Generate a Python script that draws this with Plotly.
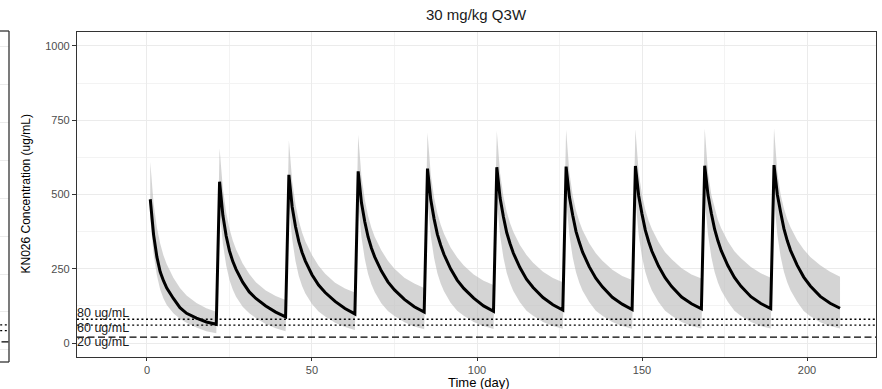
import plotly.graph_objects as go

# ---------------- data ----------------
dose_days = [1, 22, 43, 64, 85, 106, 127, 148, 169, 190]
offsets = [0, 1, 2, 3, 4, 5, 7, 9, 11, 14, 17, 20]

median_by_cycle = [
    [484, 365, 290, 240, 210, 185, 150, 119, 100, 84, 71, 63],
    [543, 430, 360, 310, 275, 248, 205, 172, 150, 125, 104, 88],
    [566, 458, 392, 342, 305, 276, 230, 195, 170, 140, 116, 98],
    [578, 472, 408, 357, 320, 290, 243, 206, 179, 147, 122, 104],
    [587, 482, 418, 366, 329, 298, 250, 212, 184, 151, 125, 107],
    [592, 488, 425, 372, 335, 303, 254, 215, 187, 153, 129, 111],
    [594, 492, 430, 376, 339, 306, 257, 218, 189, 154, 131, 113],
    [596, 495, 434, 380, 342, 309, 259, 220, 190, 155, 132, 115],
    [597, 498, 437, 383, 344, 311, 261, 221, 191, 156, 133, 116],
    [599, 500, 440, 385, 345, 312, 262, 222, 192, 157, 134, 117],
]
upper_by_cycle = [
    [609, 470, 390, 335, 295, 265, 220, 185, 160, 135, 117, 105],
    [656, 520, 440, 385, 345, 315, 268, 232, 205, 177, 158, 145],
    [683, 545, 467, 412, 372, 342, 296, 260, 233, 203, 184, 170],
    [700, 560, 482, 428, 388, 358, 312, 277, 250, 220, 200, 185],
    [708, 567, 490, 437, 398, 368, 322, 288, 261, 231, 210, 195],
    [714, 571, 494, 442, 404, 375, 330, 296, 270, 240, 219, 205],
    [718, 573, 497, 446, 409, 380, 336, 302, 277, 247, 226, 212],
    [720, 574, 498, 449, 412, 384, 340, 306, 282, 252, 231, 217],
    [722, 575, 499, 451, 414, 386, 343, 309, 285, 256, 235, 220],
    [723, 576, 500, 453, 417, 390, 347, 315, 290, 262, 240, 223],
]
lower_by_cycle = [
    [420, 300, 228, 180, 150, 128, 100, 82, 68, 52, 40, 33],
    [450, 335, 262, 212, 180, 156, 122, 100, 84, 64, 50, 40],
    [465, 350, 276, 226, 192, 167, 131, 106, 89, 68, 54, 44],
    [472, 356, 283, 232, 198, 172, 134, 108, 91, 70, 56, 46],
    [477, 360, 286, 235, 200, 174, 136, 109, 92, 71, 57, 47],
    [480, 362, 288, 237, 202, 175, 137, 109, 92, 71, 57, 48],
    [482, 363, 289, 238, 203, 176, 138, 109, 92, 71, 57, 48],
    [483, 364, 290, 239, 204, 177, 138, 109, 92, 71, 57, 49],
    [484, 365, 290, 239, 204, 177, 139, 109, 91, 71, 57, 49],
    [485, 365, 291, 240, 205, 178, 139, 108, 90, 70, 57, 49],
]

thresholds = [80, 60, 20]
threshold_labels = ["80 ug/mL", "60 ug/mL", "20 ug/mL"]

panel_title = "30 mg/kg Q3W"
x_title = "Time (day)"
y_title = "KN026 Concentration (ug/mL)"

# ---------------- build series ----------------
time, med, upp, low = [], [], [], []
for i, d in enumerate(dose_days):
    for j, o in enumerate(offsets):
        time.append(d + o)
        med.append(median_by_cycle[i][j])
        upp.append(upper_by_cycle[i][j])
        low.append(lower_by_cycle[i][j])

# ---------------- style ----------------
FONT = "Liberation Sans, Arial, sans-serif"
W, H = 882, 389
ML, MR, MT, MB = 0, 6, 31, 27
plot_w = W - ML - MR
plot_h = H - MT - MB
main_x_dom = [77 / plot_w, 1.0]
main_y_dom = [(362 - 357) / plot_h, (362 - 32) / plot_h]
left_x_dom = [0.0, 9 / plot_w]
dash_styles = ["2px,2.6px", "2px,2.6px", "7px,3.5px"]
label_shift = [6, -2.5, -5]

fig = go.Figure()

fig.add_trace(go.Scatter(x=time, y=low, mode="lines", line=dict(width=0),
                         hoverinfo="skip", showlegend=False, xaxis="x", yaxis="y"))
fig.add_trace(go.Scatter(x=time, y=upp, mode="lines", line=dict(width=0),
                         fill="tonexty", fillcolor="rgba(185,185,185,0.62)",
                         hoverinfo="skip", showlegend=False, xaxis="x", yaxis="y"))
fig.add_trace(go.Scatter(x=time, y=med, mode="lines",
                         line=dict(color="black", width=3),
                         showlegend=False, xaxis="x", yaxis="y"))
# dummy trace for the partially visible left panel
fig.add_trace(go.Scatter(x=[0.5], y=[500], mode="markers", marker=dict(opacity=0),
                         hoverinfo="skip", showlegend=False, xaxis="x2", yaxis="y2"))

shapes = []
for v, ds in zip(thresholds, dash_styles):
    shapes.append(dict(type="line", xref="x domain", x0=0, x1=1, yref="y", y0=v, y1=v,
                       line=dict(color="black", width=1.3, dash=ds), layer="above"))
    shapes.append(dict(type="line", xref="x2 domain", x0=-1, x1=1, yref="y2", y0=v, y1=v,
                       line=dict(color="black", width=1.3, dash=ds), layer="above"))
# left partial panel border
shapes.append(dict(type="line", xref="x2 domain", x0=1, x1=1, yref="y2 domain", y0=0, y1=1,
                   line=dict(color="#333333", width=1.3)))
shapes.append(dict(type="line", xref="x2 domain", x0=-2, x1=1, yref="y2 domain", y0=1, y1=1,
                   line=dict(color="#333333", width=1.3)))
shapes.append(dict(type="line", xref="x2 domain", x0=-2, x1=1, yref="y2 domain", y0=0, y1=0,
                   line=dict(color="#333333", width=1.3)))

annotations = [
    dict(text=panel_title, xref="x domain", x=0.5, xanchor="center", yref="y domain", y=1,
         yshift=17, yanchor="middle", showarrow=False,
         font=dict(family=FONT, size=15, color="#1a1a1a")),
    dict(text=x_title, xref="x domain", x=0.5, xanchor="center", xshift=2, yref="y domain",
         y=0, yshift=-25, yanchor="middle", showarrow=False,
         font=dict(family=FONT, size=13, color="#000000")),
    dict(text=y_title, xref="paper", x=25 / plot_w, xanchor="center", yref="y domain",
         y=0.5, yanchor="middle", textangle=-90, showarrow=False,
         font=dict(family=FONT, size=12, color="#000000")),
]
for v, lab, ys in zip(thresholds, threshold_labels, label_shift):
    annotations.append(dict(text=lab, xref="x domain", x=0, xanchor="left", xshift=-1,
                            yref="y", y=v, yanchor="middle", yshift=ys, showarrow=False,
                            borderpad=0,
                            font=dict(family=FONT, size=12.5, color="#1a1a1a")))

fig.update_layout(
    width=W, height=H,
    margin=dict(l=ML, r=MR, t=MT, b=MB, pad=0),
    paper_bgcolor="white", plot_bgcolor="white",
    font=dict(family=FONT, color="#4d4d4d"),
    shapes=shapes, annotations=annotations, showlegend=False,
    xaxis=dict(domain=main_x_dom, anchor="y", range=[-21.2, 220.9],
               tickmode="linear", tick0=0, dtick=50,
               ticks="outside", ticklen=3, tickwidth=1, tickcolor="#333333",
               tickfont=dict(family=FONT, size=11, color="#4d4d4d"),
               showgrid=True, gridcolor="#ebebeb", gridwidth=1,
               minor=dict(dtick=25, tick0=0, showgrid=True, gridcolor="#f3f3f3", gridwidth=1),
               zeroline=False, showline=True, mirror=True, linecolor="#333333", linewidth=1.3),
    yaxis=dict(domain=main_y_dom, anchor="x", range=[-47, 1047],
               tickmode="linear", tick0=0, dtick=250,
               ticks="outside", ticklen=4, tickwidth=1, tickcolor="#333333",
               tickfont=dict(family=FONT, size=11, color="#4d4d4d"),
               showgrid=True, gridcolor="#ebebeb", gridwidth=1,
               minor=dict(dtick=125, tick0=0, showgrid=True, gridcolor="#f3f3f3", gridwidth=1),
               zeroline=False, showline=True, mirror=True, linecolor="#333333", linewidth=1.3),
    xaxis2=dict(domain=left_x_dom, anchor="y2", range=[0, 1], showgrid=False,
                showticklabels=False, ticks="", zeroline=False, showline=False),
    yaxis2=dict(domain=[0, 1], anchor="x2", range=[-51, 1119], tickmode="linear",
                tick0=126, dtick=134, showgrid=True, gridcolor="#ebebeb", gridwidth=1,
                showticklabels=False, ticks="", zeroline=False, showline=False),
)

fig.write_html("out.html")
